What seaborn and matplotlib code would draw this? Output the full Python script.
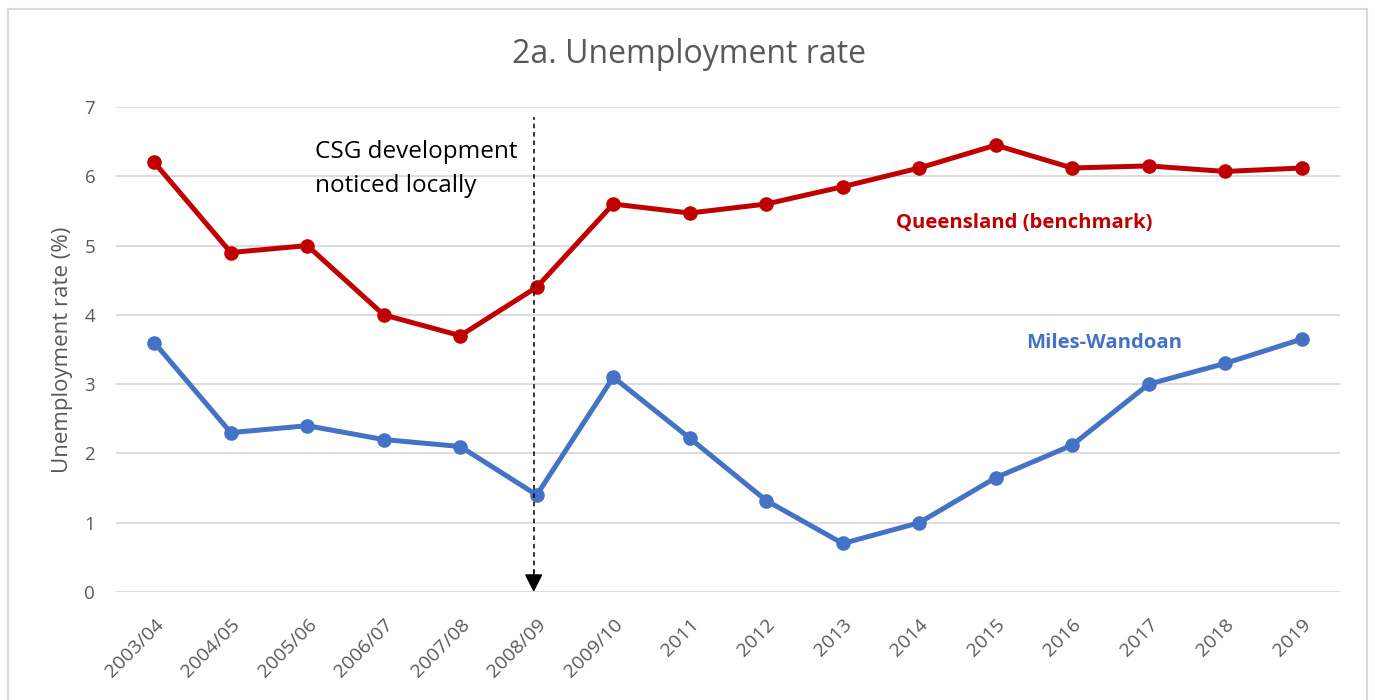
import pandas as pd
import matplotlib
matplotlib.use("Agg")
import matplotlib.pyplot as plt
import seaborn as sns

# datos
periodos = ["2003/04", "2004/05", "2005/06", "2006/07", "2007/08", "2008/09", "2009/10",
            "2011", "2012", "2013", "2014", "2015", "2016", "2017", "2018", "2019"]
queensland = [6.2, 4.9, 5.0, 4.0, 3.7, 4.4, 5.6, 5.47, 5.6, 5.85, 6.12, 6.45, 6.12, 6.15, 6.07, 6.12]
miles_wandoan = [3.6, 2.3, 2.4, 2.2, 2.1, 1.4, 3.1, 2.22, 1.32, 0.7, 1.0, 1.65, 2.12, 3.0, 3.3, 3.65]
series = ["Queensland (benchmark)", "Miles-Wandoan"]
colores = {"Queensland (benchmark)": "#C00000", "Miles-Wandoan": "#4472C4"}

df = pd.DataFrame({
    "pos": list(range(len(periodos))) * 2,
    "serie": [series[0]] * len(periodos) + [series[1]] * len(periodos),
    "tasa": queensland + miles_wandoan,
})

sns.set_theme(style="white")
plt.rcParams["font.family"] = ["Open Sans", "DejaVu Sans"]

fig = plt.figure(figsize=(13.75, 7), dpi=100)
ax = fig.add_axes([0.0844, 0.1543, 0.8901, 0.6928])

sns.lineplot(data=df, x="pos", y="tasa", hue="serie", palette=colores, marker="o",
             markersize=10.5, markeredgewidth=0, linewidth=3.6, sort=False, legend=False, ax=ax)

ax.set_xlim(-0.5, len(periodos) - 0.5)
ax.set_ylim(0, 7)
ax.set_yticks(range(0, 8))
ax.set_xticks(range(len(periodos)))
ax.set_xticklabels(periodos, rotation=45, ha="right", rotation_mode="anchor")
ax.tick_params(axis="both", length=0, labelcolor="#595959")
ax.tick_params(axis="x", pad=17, labelsize=14)
ax.tick_params(axis="y", pad=15, labelsize=13.5)
ax.grid(axis="y", color="#D9D9D9", linewidth=1.3)
ax.set_axisbelow(True)
for s in ax.spines.values():
    s.set_visible(False)
ax.set_xlabel("")
ax.set_ylabel("Unemployment rate (%)", fontsize=16, color="#595959", labelpad=8)

fig.text(0.501, 0.922, "2a. Unemployment rate", ha="center", va="center", fontsize=23, color="#595959")

# flecha punteada en 2008/09
x_csg = periodos.index("2008/09") - 0.04
ax.vlines(x_csg, 0.15, 6.85, colors="black", linewidth=1.1, linestyles=(0, (3, 2.5)), zorder=4)
ax.annotate("", xy=(x_csg, 0), xytext=(x_csg, 0.3),
            arrowprops=dict(arrowstyle="-|>,head_length=0.55,head_width=0.28",
                            color="black", lw=1.1, mutation_scale=20, shrinkA=0, shrinkB=0),
            zorder=4)
ax.text(2.1, 6.1, "CSG development\nnoticed locally", fontsize=17.5, color="black",
        va="center", ha="left", linespacing=1.55)

ax.text(11.37, 5.32, "Queensland (benchmark)", fontsize=14.6, color="#C00000", fontweight="bold", ha="center", va="center")
ax.text(12.42, 3.59, "Miles-Wandoan", fontsize=14.6, color="#4472C4", fontweight="bold", ha="center", va="center")

borde = plt.Rectangle((0.006, -0.01), 0.988, 0.997, transform=fig.transFigure, fill=False,
                      edgecolor="#D9D9D9", linewidth=1.5)
fig.patches.append(borde)

fig.savefig("out.png", dpi=100)
